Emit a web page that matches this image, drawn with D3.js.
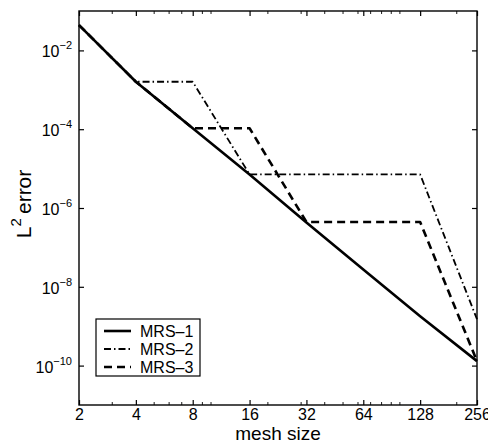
<!DOCTYPE html>
<html>
<head>
<meta charset="utf-8">
<script src="https://cdn.jsdelivr.net/npm/d3@7"></script>
<style>
    body { margin: 0; background: #fff; }
    text { font-family: "Liberation Sans", Arial, Helvetica, sans-serif; fill: #000; }
</style>
</head>
<body>
<div id="chart"></div>
<script>

// mesh sizes and L2 error values
const meshSizes = [2, 4, 8, 16, 32, 64, 128, 256]
const mrs1 = [4.4e-2, 1.6e-3, 1.06e-4, 7.1e-6, 4.3e-7, 2.75e-8, 1.8e-9, 1.3e-10]
const mrs2 = [4.4e-2, 1.6e-3, 1.6e-3, 7.1e-6, 7.1e-6, 7.1e-6, 7.1e-6, 1.5e-9]
const mrs3 = [4.4e-2, 1.6e-3, 1.06e-4, 1.06e-4, 4.4e-7, 4.4e-7, 4.4e-7, 1.3e-10]

const seriesNames = ['MRS-1', 'MRS-2', 'MRS-3']
const yTickExps = [-2, -4, -6, -8, -10]
const xMinorTicks = [3, 5, 6, 7, 9, 10, 20, 30, 40, 50, 60, 70, 80, 90, 100, 200]


function errorPlot() {

    var width = 488;
    var height = 445;

    var left = 79, right = 477, top = 11, bottom = 405;

    var svg = d3.select("#chart").append("svg")
        .attr("width", width)
        .attr("height", height)

    var x = d3.scaleLog()
        .base(2)
        .domain([2, 256])
        .range([left, right])

    var y = d3.scaleLog()
        .domain([1e-11, 1e-1])
        .range([bottom, top])

    const styles = [
        { width: 2.6, dash: null },
        { width: 1.8, dash: '7,3,1.5,3' },
        { width: 2.6, dash: '8,5' }
    ]

    const series = [mrs1, mrs2, mrs3].map((vals, i) => ({
        name: seriesNames[i],
        style: styles[i],
        points: meshSizes.map((m, j) => [m, vals[j]])
    }))

    var line = d3.line()
        .x(d => x(d[0]))
        .y(d => y(d[1]))

    // axes: bottom/left with labels, top/right mirrored ticks
    const xAxis = d3.axisBottom(x).tickValues(meshSizes).tickSize(-5).tickPadding(4).tickFormat(d3.format('d'))
    const xAxisTop = d3.axisTop(x).tickValues(meshSizes).tickSize(-5).tickFormat('')
    const yTicks = yTickExps.map(e => Math.pow(10, e))
    const yAxis = d3.axisLeft(y).tickValues(yTicks).tickSize(-5).tickFormat('')
    const yAxisRight = d3.axisRight(y).tickValues(yTicks).tickSize(-5).tickFormat('')

    const gx = svg.append('g').attr('transform', `translate(0,${bottom})`).call(xAxis)
    svg.append('g').attr('transform', `translate(0,${top})`).call(xAxisTop)
    svg.append('g').attr('transform', `translate(${left},0)`).call(yAxis)
    svg.append('g').attr('transform', `translate(${right},0)`).call(yAxisRight)

    svg.selectAll('.domain').remove()
    svg.selectAll('.tick line').attr('stroke', '#000').attr('stroke-width', 1.2)

    gx.selectAll('text')
        .attr('font-size', 16)
        .attr('fill', '#000')
        .attr('font-family', '"Liberation Sans", Arial, sans-serif')

    // minor ticks on x
    svg.append('g').selectAll('line')
        .data(xMinorTicks.flatMap(t => [[t, bottom, -3], [t, top, 3]]))
        .enter()
        .append('line')
        .attr('x1', d => x(d[0]))
        .attr('x2', d => x(d[0]))
        .attr('y1', d => d[1])
        .attr('y2', d => d[1] + d[2])
        .attr('stroke', '#000')
        .attr('stroke-width', 0.9)

    // y tick labels 10^n
    const yl = svg.append('g').selectAll('text')
        .data(yTickExps)
        .enter()
        .append('text')
        .attr('x', 72)
        .attr('y', d => y(Math.pow(10, d)) + 7)
        .attr('text-anchor', 'end')
        .attr('font-size', 16)
    yl.append('tspan').text('10')
    yl.append('tspan')
        .attr('dy', -8)
        .attr('font-size', 11)
        .text(d => '\u2212' + Math.abs(d))

    // frame
    svg.append('rect')
        .attr('x', left)
        .attr('y', top)
        .attr('width', right - left)
        .attr('height', bottom - top)
        .attr('fill', 'none')
        .attr('stroke', '#000')
        .attr('stroke-width', 1.4)

    svg.append('g').selectAll('path')
        .data(series)
        .enter()
        .append('path')
        .attr('d', d => line(d.points))
        .attr('fill', 'none')
        .attr('stroke', '#000')
        .attr('stroke-width', d => d.style.width)
        .attr('stroke-dasharray', d => d.style.dash)
        .attr('stroke-linejoin', 'round')

    // axis titles
    svg.append('text')
        .attr('x', (left + right) / 2)
        .attr('y', 440)
        .attr('text-anchor', 'middle')
        .attr('font-size', 19)
        .text('mesh size')

    const ylab = svg.append('text')
        .attr('transform', 'translate(31,204) rotate(-90)')
        .attr('text-anchor', 'middle')
        .attr('font-size', 21)
    ylab.append('tspan').text('L')
    ylab.append('tspan').attr('dy', -10).attr('font-size', 15).text('2')
    ylab.append('tspan').attr('dy', 10).text('\u2009error')

    // legend
    const legend = svg.append('g').attr('transform', 'translate(96,319)')
    legend.append('rect')
        .attr('width', 104)
        .attr('height', 57)
        .attr('fill', '#fff')
        .attr('stroke', '#000')
        .attr('stroke-width', 1.2)

    const item = legend.selectAll('g.item')
        .data(series)
        .enter()
        .append('g')
        .attr('class', 'item')
        .attr('transform', (d, i) => `translate(0,${12 + i * 18})`)

    item.append('line')
        .attr('x1', 8)
        .attr('x2', 35)
        .attr('stroke', '#000')
        .attr('stroke-width', d => d.style.width)
        .attr('stroke-dasharray', d => d.style.dash)

    item.append('text')
        .attr('x', 44)
        .attr('y', 6)
        .attr('font-size', 16)
        .text(d => d.name.replace('-', '\u2013'))
}

errorPlot()

</script>
</body>
</html>
